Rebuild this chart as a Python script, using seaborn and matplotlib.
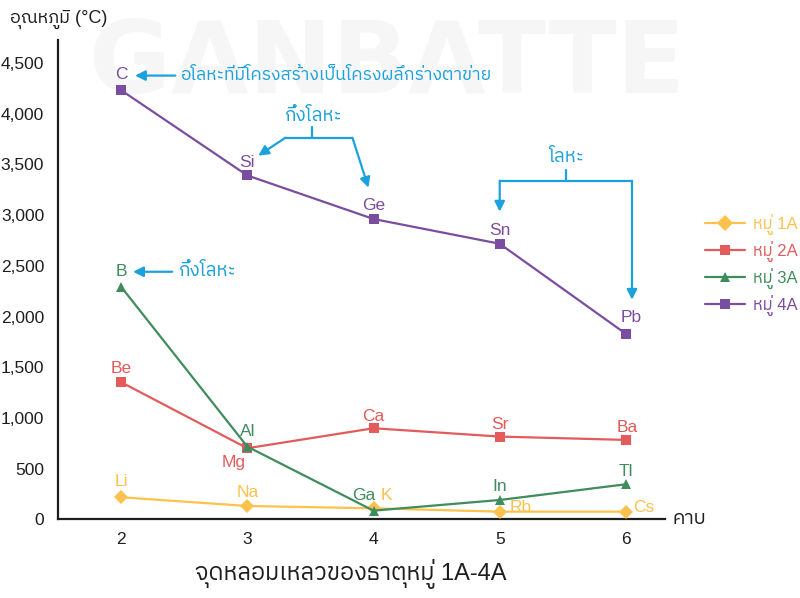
import numpy as np
import pandas as pd
import matplotlib
matplotlib.use("Agg")
import matplotlib.pyplot as plt
from matplotlib import font_manager as fm
from matplotlib.lines import Line2D
from matplotlib.ticker import FuncFormatter
import seaborn as sns

# ---- data -------------------------------------------------------------
periods = [2, 3, 4, 5, 6]
group_names = ["หมู่ 1A", "หมู่ 2A", "หมู่ 3A", "หมู่ 4A"]

g1_elements = ["Li", "Na", "K", "Rb", "Cs"]
g1_values = [219, 133, 110, 77, 77]

g2_elements = ["Be", "Mg", "Ca", "Sr", "Ba"]
g2_values = [1353, 702, 899, 817, 784]

g3_elements = ["B", "Al", "Ga", "In", "Tl"]
g3_values = [2293, 718, 87, 192, 347]

g4_elements = ["C", "Si", "Ge", "Sn", "Pb"]
g4_values = [4230, 3390, 2961, 2717, 1829]

y_ticks = [0, 500, 1000, 1500, 2000, 2500, 3000, 3500, 4000, 4500]

title_text = "จุดหลอมเหลวของธาตุหมู่ 1A-4A"
y_label = "อุณหภูมิ (°C)"
x_label = "คาบ"
note_nonmetal = "อโลหะที่มีโครงสร้างเป็นโครงผลึกร่างตาข่าย"
note_metalloid = "กึ่งโลหะ"
note_metal = "โลหะ"

# ---- styling ----------------------------------------------------------
colors = {"หมู่ 1A": "#FDC14E", "หมู่ 2A": "#E35B5B",
          "หมู่ 3A": "#3F8C5E", "หมู่ 4A": "#7B4DA0"}
markers = {"หมู่ 1A": "D", "หมู่ 2A": "s", "หมู่ 3A": "^", "หมู่ 4A": "s"}
blue = "#1BA1DD"
dark = "#1E1E1E"

sns.set_theme(style="white")


def _thai_families():
    found = []
    try:
        from fontTools.ttLib import TTFont
    except Exception:
        return found
    for fe in fm.fontManager.ttflist:
        if fe.name in found:
            continue
        try:
            tt = TTFont(fe.fname, fontNumber=0, lazy=True)
            cmap = tt.getBestCmap() or {}
            if 0x0E01 in cmap and 0x0E39 in cmap:
                found.append(fe.name)
        except Exception:
            pass
    found.sort(key=lambda n: (0 if "Thai" in n else 1, "Looped" in n, n))
    return found


families = ["Liberation Sans"] + _thai_families() + ["DejaVu Sans"]
plt.rcParams["font.family"] = families
plt.rcParams["axes.unicode_minus"] = False

# ---- long-form table --------------------------------------------------
frames = []
for g, els, vals in zip(group_names,
                        [g1_elements, g2_elements, g3_elements, g4_elements],
                        [g1_values, g2_values, g3_values, g4_values]):
    frames.append(pd.DataFrame({"period": periods, "temp": vals,
                                "element": els, "group": g}))
df = pd.concat(frames, ignore_index=True)

fig = plt.figure(figsize=(8.0, 5.98), dpi=100)
ax = fig.add_axes([0.0725, 0.1313, 0.7588, 0.8017])
ax.patch.set_alpha(0)

# faint watermark behind everything
fig.text(0.484, 0.89, "GANBATTE", fontsize=72, fontweight="bold",
         color="#F6F6F6", ha="center", va="center", zorder=-5,
         family="DejaVu Sans")

for g in group_names:
    sub = df[df["group"] == g]
    sns.lineplot(data=sub, x="period", y="temp", ax=ax, color=colors[g],
                 marker=markers[g], markersize=7.5 if markers[g] != "D" else 7,
                 markeredgewidth=0, linewidth=1.6, zorder=3, legend=False)

# element labels (offsets in points)
label_offsets = {"Mg": (-10, -10), "K": (9, 9), "Ga": (-7, 11),
                 "Rb": (15, 3), "Cs": (13, 3), "C": (0, 11), "B": (0, 11),
                 "Li": (0, 11.5), "Pb": (4, 11.5), "Al": (0, 11),
                 "Ca": (0, 8.5), "Sr": (0, 8.5), "Ba": (1, 9)}
for _, r in df.iterrows():
    dx, dy = label_offsets.get(r["element"], (0, 9.5))
    ax.annotate(r["element"], (r["period"], r["temp"]), xytext=(dx, dy),
                textcoords="offset points", ha="center", va="center",
                fontsize=12.5, color=colors[r["group"]], zorder=4)

# ---- axes -------------------------------------------------------------
ax.set_xlim(1.5, 6.31)
ax.set_ylim(0, 4724)
ax.set_xticks(periods)
ax.set_yticks(y_ticks)
ax.yaxis.set_major_formatter(FuncFormatter(lambda v, p: f"{int(v):,}"))
ax.tick_params(axis="both", length=0, labelsize=12.5, labelcolor=dark)
ax.tick_params(axis="y", pad=10)
ax.tick_params(axis="x", pad=9)
ax.set_xlabel("")
ax.set_ylabel("")
sns.despine(ax=ax)
for s in ("left", "bottom"):
    ax.spines[s].set_color(dark)
    ax.spines[s].set_linewidth(1.6)

fig.text(0.0125, 0.968, y_label, fontsize=13, color=dark, ha="left", va="center")
fig.text(0.84, 0.1313, x_label, fontsize=14, color=dark, ha="left", va="center")
fig.text(0.439, 0.04, title_text, fontsize=17, color=dark, ha="center",
         va="center")

# ---- annotations ------------------------------------------------------
arrow_kw = dict(arrowstyle="-|>", color=blue, lw=1.6, mutation_scale=15,
                shrinkA=0, shrinkB=0)
note_size = 13.5

# nonmetal note pointing at carbon
ax.annotate("", xy=(2.11, 4374), xytext=(2.43, 4374), arrowprops=arrow_kw)
ax.text(2.468, 4374, note_nonmetal, color=blue, fontsize=12.7,
        ha="left", va="center")

# metalloid note pointing at boron
ax.annotate("", xy=(2.095, 2441), xytext=(2.405, 2441), arrowprops=arrow_kw)
ax.text(2.452, 2441, note_metalloid, color=blue, fontsize=note_size,
        ha="left", va="center")

# metalloid bracket for Si and Ge
ax.text(3.516, 3975, note_metalloid, color=blue, fontsize=note_size,
        ha="center", va="center")
ax.plot([3.516, 3.516], [3871, 3762], color=blue, lw=1.6)
ax.plot([3.302, 3.833], [3762, 3762], color=blue, lw=1.6)
ax.annotate("", xy=(3.087, 3585), xytext=(3.302, 3762), arrowprops=arrow_kw)
ax.annotate("", xy=(3.96, 3269), xytext=(3.833, 3762), arrowprops=arrow_kw)

# metal bracket for Sn and Pb
ax.text(5.524, 3570, note_metal, color=blue, fontsize=note_size,
        ha="center", va="center")
ax.plot([5.524, 5.524], [3447, 3338], color=blue, lw=1.6)
ax.plot([5.0, 6.048], [3338, 3338], color=blue, lw=1.6)
ax.annotate("", xy=(5.0, 3033), xytext=(5.0, 3338), arrowprops=arrow_kw)
ax.annotate("", xy=(6.048, 2165), xytext=(6.048, 3338), arrowprops=arrow_kw)

# ---- legend -----------------------------------------------------------
handles = [Line2D([0], [0], color=colors[g], marker=markers[g], lw=1.6,
                  markersize=7.5 if markers[g] != "D" else 8,
                  markeredgewidth=0) for g in group_names]
leg = fig.legend(handles, group_names, loc="center left",
                 bbox_to_anchor=(0.871, 0.557), frameon=False, fontsize=12,
                 handlelength=2.4, handletextpad=0.5, labelspacing=0.35,
                 borderpad=0)
for txt, g in zip(leg.get_texts(), group_names):
    txt.set_color(colors[g])

fig.savefig("out.png", dpi=100)
